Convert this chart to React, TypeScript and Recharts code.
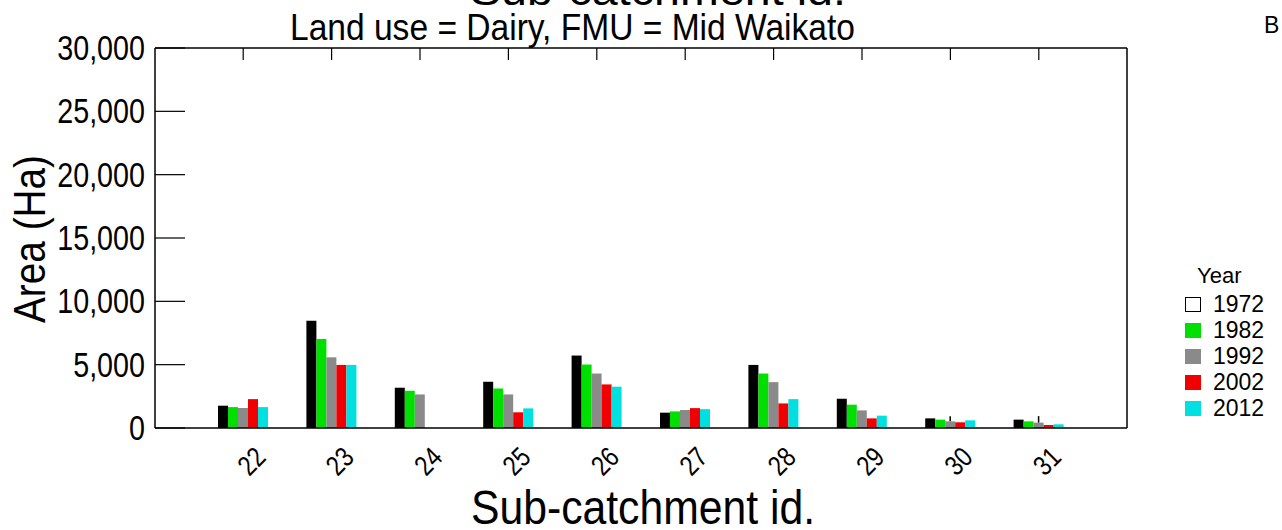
import React from "react";
import { Bar, BarChart, ErrorBar, Legend, XAxis, YAxis } from "recharts";

const subCatchments = ["22", "23", "24", "25", "26", "27", "28", "29", "30", "31"];
const area1972 = [1760, 8470, 3180, 3650, 5720, 1210, 4980, 2310, 760, 660];
const area1982 = [1650, 7030, 2940, 3120, 5010, 1310, 4300, 1840, 660, 525];
const area1992 = [1580, 5580, 2650, 2650, 4300, 1420, 3620, 1390, 525, 425];
const area2002 = [2280, 4980, 0, 1240, 3440, 1570, 1940, 760, 450, 235];
const area2012 = [1650, 4980, 0, 1550, 3260, 1490, 2280, 975, 605, 290];
const err1992Up = [0, 0, 0, 0, 0, 0, 0, 0, 395, 515];
const yTicks = [0, 5000, 10000, 15000, 20000, 25000, 30000];

const years = [
  { key: "y1972", label: "1972", fill: "#000000", swatch: "#ffffff", border: "#000000" },
  { key: "y1982", label: "1982", fill: "#00e000", swatch: "#00e000", border: "none" },
  { key: "y1992", label: "1992", fill: "#8a8a8a", swatch: "#8a8a8a", border: "none" },
  { key: "y2002", label: "2002", fill: "#f00000", swatch: "#f00000", border: "none" },
  { key: "y2012", label: "2012", fill: "#00e0e0", swatch: "#00e0e0", border: "none" },
];

const data = subCatchments.map((id, i) => ({
  id,
  y1972: area1972[i],
  y1982: area1982[i],
  y1992: area1992[i],
  y2002: area2002[i],
  y2012: area2012[i],
  err: [0, err1992Up[i]],
}));

const FONT = "'Liberation Sans', Arial, sans-serif";
const NARROW = 0.82; // no narrow font installed, squeeze glyphs instead

const fmt = (v: number) => v.toLocaleString("en-US");

function LeftTick(props: any) {
  const { x, y, payload } = props;
  return (
    <g>
      <line x1={x} x2={x + 30} y1={y} y2={y} stroke="#000" strokeWidth={1.2} />
      <text
        transform={`translate(${x - 10} ${y}) scale(${NARROW} 1)`}
        textAnchor="end"
        dominantBaseline="central"
        fontFamily={FONT}
        fontSize={35}
        fill="#000"
      >
        {fmt(payload.value)}
      </text>
    </g>
  );
}

function RightTick(props: any) {
  const { x, y } = props;
  return <line x1={x} x2={x - 30} y1={y} y2={y} stroke="#000" strokeWidth={1.2} />;
}

function TopTick(props: any) {
  const { x, y } = props;
  return <line x1={x} x2={x} y1={y} y2={y + 12} stroke="#000" strokeWidth={1.2} />;
}

function BottomTick(props: any) {
  const { x, y, payload } = props;
  const cx = x + 8;
  const cy = y + 33;
  return (
    <text
      transform={`translate(${cx} ${cy}) rotate(-45) scale(${NARROW} 1)`}
      textAnchor="middle"
      dominantBaseline="central"
      fontFamily={FONT}
      fontSize={28}
      fill="#000"
    >
      {payload.value}
    </text>
  );
}

function YearLegend() {
  return (
    <div style={{ fontFamily: FONT, color: "#000" }}>
      <div style={{ fontSize: 22, marginLeft: 12, lineHeight: "22px", marginBottom: 4 }}>Year</div>
      {years.map((yr) => (
        <div key={yr.key} style={{ display: "flex", alignItems: "center", height: 26 }}>
          <span
            style={{
              display: "inline-block",
              width: 16,
              height: 15,
              background: yr.swatch,
              boxSizing: "border-box",
              border: yr.border === "none" ? "none" : `1.5px solid ${yr.border}`,
              marginRight: 12,
            }}
          />
          <span style={{ fontSize: 23 }}>{yr.label}</span>
        </div>
      ))}
    </div>
  );
}

export default function App() {
  return (
    <div style={{ position: "relative", width: 1282, height: 530, background: "#fff" }}>
      <style>{"body{margin:0}"}</style>
      <BarChart
        width={1282}
        height={530}
        data={data}
        margin={{ top: 18, right: 5, bottom: 72, left: 95 }}
        barGap={0}
      >
        <XAxis
          dataKey="id"
          xAxisId="bottom"
          orientation="bottom"
          padding={{ left: 44, right: 44 }}
          axisLine={{ stroke: "#000", strokeWidth: 1.5 }}
          tickLine={false}
          tickSize={0}
          tickMargin={0}
          tick={<BottomTick />}
          interval={0}
          height={30}
        />
        <XAxis
          dataKey="id"
          xAxisId="top"
          orientation="top"
          padding={{ left: 44, right: 44 }}
          axisLine={{ stroke: "#000", strokeWidth: 1.5 }}
          tickLine={false}
          tickSize={0}
          tickMargin={0}
          tick={<TopTick />}
          interval={0}
          height={30}
        />
        <YAxis
          yAxisId="left"
          domain={[0, 30000]}
          ticks={yTicks}
          axisLine={{ stroke: "#000", strokeWidth: 1.5 }}
          tickLine={false}
          tickSize={0}
          tickMargin={0}
          tick={<LeftTick />}
          width={60}
        />
        <YAxis
          yAxisId="right"
          orientation="right"
          domain={[0, 30000]}
          ticks={yTicks}
          axisLine={{ stroke: "#000", strokeWidth: 1.5 }}
          tickLine={false}
          tickSize={0}
          tickMargin={0}
          tick={<RightTick />}
          width={60}
        />
        {years.map((yr) => (
          <Bar
            key={yr.key}
            dataKey={yr.key}
            xAxisId="bottom"
            yAxisId="left"
            fill={yr.fill}
            barSize={10}
            isAnimationActive={false}
          >
            {yr.key === "y1992" ? (
              <ErrorBar dataKey="err" width={0} stroke="#000" strokeWidth={1.5} direction="y" />
            ) : null}
          </Bar>
        ))}
        <Legend
          layout="vertical"
          verticalAlign="top"
          align="right"
          content={<YearLegend />}
          wrapperStyle={{ position: "absolute", left: 1185, top: 265, width: 90 }}
        />
      </BarChart>
      <svg width={1282} height={530} style={{ position: "absolute", left: 0, top: 0, pointerEvents: "none" }}>
        <text x={470} y={5} textLength={376} lengthAdjust="spacingAndGlyphs" fontFamily={FONT} fontSize={42} fill="#000">
          Sub-catchment id.
        </text>
        <text x={290} y={40} textLength={565} lengthAdjust="spacingAndGlyphs" fontFamily={FONT} fontSize={37} fill="#000">
          Land use = Dairy, FMU = Mid Waikato
        </text>
        <text x={1264} y={33} fontFamily={FONT} fontSize={23} fill="#000">
          B
        </text>
        <text
          x={29}
          y={239}
          transform="rotate(-90 29 239)"
          textAnchor="middle"
          dominantBaseline="central"
          textLength={168}
          lengthAdjust="spacingAndGlyphs"
          fontFamily={FONT}
          fontSize={44}
          fill="#000"
        >
          Area (Ha)
        </text>
        <text x={471} y={524} textLength={344} lengthAdjust="spacingAndGlyphs" fontFamily={FONT} fontSize={48} fill="#000">
          Sub-catchment id.
        </text>
      </svg>
    </div>
  );
}
